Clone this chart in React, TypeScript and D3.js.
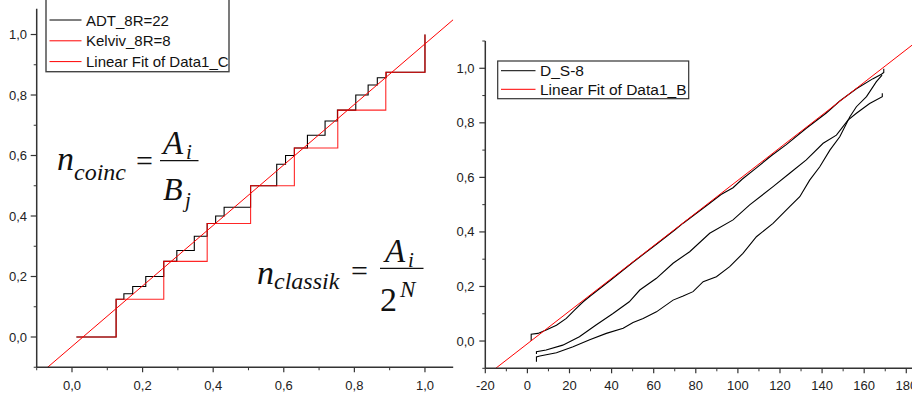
import React from "react";
import * as d3 from "d3";

// ---------- Left panel data ----------
const adtX = [0.0125, 0.125, 0.147, 0.172, 0.209, 0.26, 0.297, 0.3465, 0.383, 0.407, 0.431, 0.506, 0.58, 0.605, 0.63, 0.667, 0.717, 0.752, 0.804, 0.839, 0.865, 0.89, 1.0];
const adtY = [0, 0.125, 0.143, 0.167, 0.2, 0.25, 0.286, 0.333, 0.375, 0.4, 0.429, 0.5, 0.571, 0.6, 0.625, 0.667, 0.714, 0.75, 0.8, 0.833, 0.857, 0.875, 1.0];
const kelvX = [0.0125, 0.125, 0.26, 0.383, 0.506, 0.63, 0.753, 0.889, 1.0];
const kelvY = [0, 0.125, 0.25, 0.375, 0.5, 0.625, 0.75, 0.875, 1.0];
const fitLeftCoef = [-0.031, 1.0]; // intercept, slope
const leftXTicks = [0, 0.2, 0.4, 0.6, 0.8, 1.0];
const leftXMinor = [-0.1, 0.1, 0.3, 0.5, 0.7, 0.9];
const leftYTicks = [0, 0.2, 0.4, 0.6, 0.8, 1.0];
const leftYMinor = [-0.1, 0.1, 0.3, 0.5, 0.7, 0.9];
const leftLegend = ["ADT_8R=22", "Kelviv_8R=8", "Linear Fit of Data1_C"];

// ---------- Right panel data ----------
const upperX = [1.8, 1.8, 5.0, 8.9, 13.8, 18.5, 22.5, 26.5, 30, 39, 50, 61, 70, 74, 86.6, 92, 97.7, 102, 108.8, 116, 123, 132.5, 142, 148.4, 156.3, 164.2, 168.2, 169.3, 169.3];
const upperY = [0.0, 0.025, 0.028, 0.04, 0.058, 0.083, 0.114, 0.144, 0.166, 0.22, 0.288, 0.353, 0.407, 0.432, 0.505, 0.537, 0.562, 0.593, 0.635, 0.68, 0.72, 0.78, 0.836, 0.88, 0.925, 0.962, 0.978, 0.985, 0.998];
const middleX = [4.3, 4.3, 8.9, 16.8, 24.7, 32.6, 40.5, 48.4, 53.4, 61.3, 69.2, 77.1, 86.6, 97.7, 105.6, 116.7, 124.6, 132.5, 140.5, 146.8, 152.3, 156.3, 162.6, 168.6, 168.6];
const middleY = [-0.048, -0.039, -0.033, -0.015, 0.016, 0.059, 0.1, 0.144, 0.187, 0.23, 0.285, 0.3275, 0.395, 0.444, 0.499, 0.566, 0.615, 0.664, 0.725, 0.755, 0.81, 0.835, 0.871, 0.896, 0.908];
const lowerX = [4.3, 4.3, 5.9, 13.8, 21.7, 29.6, 37.5, 45.5, 50.2, 55, 61.3, 69.2, 74, 78.7, 83.5, 89.8, 96.1, 102.4, 108.8, 116.7, 124.6, 129.4, 134.1, 138.9, 143.7, 148.4, 153.2, 156.3, 161.1, 165.8, 168.5];
const lowerY = [-0.076, -0.058, -0.055, -0.043, -0.021, 0.005, 0.028, 0.047, 0.068, 0.083, 0.107, 0.15, 0.165, 0.181, 0.2175, 0.236, 0.2725, 0.3215, 0.3825, 0.4315, 0.4925, 0.529, 0.59, 0.639, 0.70, 0.749, 0.8225, 0.859, 0.896, 0.951, 0.975];
const fitRightCoef = [-0.0099, 0.00599];
const rightXTicks = [-20, 0, 20, 40, 60, 80, 100, 120, 140, 160, 180];
const rightXMinor = [-10, 10, 30, 50, 70, 90, 110, 130, 150, 170];
const rightYTicks = [0, 0.2, 0.4, 0.6, 0.8, 1.0];
const rightYMinor = [-0.1, 0.1, 0.3, 0.5, 0.7, 0.9, 1.1];
const rightLegend = ["D_S-8", "Linear Fit of Data1_B"];

const SANS = "'Liberation Sans', Arial, sans-serif";
const SERIF = "'Liberation Serif', 'Times New Roman', serif";
const AXIS = "#333";
const fmt = (v: number) => d3.format(".1f")(v).replace(".", ",");

export default function App() {
  // Left scales
  const lx = d3.scaleLinear().domain([-0.1, 1.08]).range([36.7, 453.2]);
  const ly = d3.scaleLinear().domain([-0.1, 1.085]).range([367.25, 8.8]);
  // Right scales
  const rx = d3.scaleLinear().domain([-20, 183]).range([485.3, 912.6]);
  const ry = d3.scaleLinear().domain([-0.1, 1.1]).range([368.3, 41.0]);

  const stepL = (xs: number[], ys: number[]) =>
    d3.line<number>().x((_, i) => lx(xs[i])).y((_, i) => ly(ys[i])).curve(d3.curveStepAfter)(xs) || "";
  const lineR = (xs: number[], ys: number[]) =>
    d3.line<number>().x((_, i) => rx(xs[i])).y((_, i) => ry(ys[i]))(xs) || "";

  const lxd = lx.domain();
  const fitL = `M${lx(lxd[0])},${ly(fitLeftCoef[0] + fitLeftCoef[1] * lxd[0])}L${lx(lxd[1])},${ly(fitLeftCoef[0] + fitLeftCoef[1] * lxd[1])}`;
  const rxd = rx.domain();
  const fitR = `M${rx(rxd[0])},${ry(fitRightCoef[0] + fitRightCoef[1] * rxd[0])}L${rx(rxd[1])},${ry(fitRightCoef[0] + fitRightCoef[1] * rxd[1])}`;

  const [lx0, lx1] = lx.range();
  const [ly0, ly1] = ly.range();
  const [rx0, rx1] = rx.range();
  const [ry0, ry1] = ry.range();

  return (
    <svg width={912} height={394} style={{ position: "absolute", left: 0, top: 0, background: "#fff" }}>
      <defs>
        <clipPath id="clipL">
          <rect x={lx0} y={ly1} width={lx1 - lx0} height={ly0 - ly1} />
        </clipPath>
        <clipPath id="clipR">
          <rect x={rx0} y={ry1} width={rx1 - rx0} height={ry0 - ry1} />
        </clipPath>
      </defs>
      <rect x={0} y={0} width={912} height={394} fill="#fff" />

      {/* ---------------- LEFT PANEL ---------------- */}
      <g clipPath="url(#clipL)">
        <path d={stepL(adtX, adtY)} fill="none" stroke="#000" strokeWidth={1.1} />
        <path d={stepL(kelvX, kelvY)} fill="none" stroke="#ff0000" strokeOpacity={0.85} strokeWidth={1.1} />
        <path d={fitL} fill="none" stroke="#ff0000" strokeWidth={1} />
      </g>
      {/* axes */}
      <line x1={lx0} x2={lx0} y1={ly1} y2={ly0} stroke={AXIS} strokeWidth={1.5} />
      <line x1={lx0} x2={lx1} y1={ly0} y2={ly0} stroke={AXIS} strokeWidth={1.5} />
      {leftXTicks.map((t) => (
        <g key={"lxt" + t}>
          <line x1={lx(t)} x2={lx(t)} y1={ly0} y2={ly0 + 5} stroke={AXIS} strokeWidth={1.2} />
          <text x={lx(t)} y={390} fontSize={13} fontFamily={SANS} textAnchor="middle" fill="#222">{fmt(t)}</text>
        </g>
      ))}
      {leftXMinor.map((t) => (
        <line key={"lxm" + t} x1={lx(t)} x2={lx(t)} y1={ly0} y2={ly0 + 3} stroke={AXIS} strokeWidth={1} />
      ))}
      {leftYTicks.map((t) => (
        <g key={"lyt" + t}>
          <line x1={lx0 - 6} x2={lx0} y1={ly(t)} y2={ly(t)} stroke={AXIS} strokeWidth={1.2} />
          <text x={27} y={ly(t) + 4.5} fontSize={13} fontFamily={SANS} textAnchor="end" fill="#222">{fmt(t)}</text>
        </g>
      ))}
      {leftYMinor.map((t) => (
        <line key={"lym" + t} x1={lx0 - 3} x2={lx0} y1={ly(t)} y2={ly(t)} stroke={AXIS} strokeWidth={1} />
      ))}
      {/* legend left */}
      <rect x={46} y={-4} width={183} height={75.7} fill="#fff" stroke="#444" strokeWidth={1.4} />
      {leftLegend.map((s, i) => (
        <g key={s}>
          <line x1={49.5} x2={81.5} y1={20 + i * 20.8} y2={20 + i * 20.8} stroke={i === 0 ? "#000" : "#ff0000"} strokeWidth={1} />
          <text x={86} y={20 + i * 20.8 + 5.5} fontSize={15} fontFamily={SANS} fill="#111">{s}</text>
        </g>
      ))}
      {/* formulas */}
      <g fontFamily={SERIF} fill="#111">
        <text x={57} y={170} fontSize={34} fontStyle="italic">n</text>
        <text x={74} y={180} fontSize={24} fontStyle="italic">coinc</text>
        <text x={136} y={171} fontSize={30}>=</text>
        <line x1={160} x2={198.5} y1={160.7} y2={160.7} stroke="#111" strokeWidth={1.3} />
        <text x={163} y={154} fontSize={33} fontStyle="italic">A</text>
        <text x={186} y={159} fontSize={21} fontStyle="italic">i</text>
        <text x={163} y={200} fontSize={32} fontStyle="italic">B</text>
        <text x={185} y={207} fontSize={21} fontStyle="italic">j</text>

        <text x={257} y={283.5} fontSize={34} fontStyle="italic">n</text>
        <text x={274} y={288.5} fontSize={24} fontStyle="italic">classik</text>
        <text x={351} y={281} fontSize={30}>=</text>
        <line x1={380} x2={423.5} y1={268.3} y2={268.3} stroke="#111" strokeWidth={1.3} />
        <text x={385} y={262} fontSize={33} fontStyle="italic">A</text>
        <text x={408} y={267} fontSize={21} fontStyle="italic">i</text>
        <text x={380} y={311} fontSize={34}>2</text>
        <text x={400} y={297} fontSize={23} fontStyle="italic">N</text>
      </g>

      {/* ---------------- RIGHT PANEL ---------------- */}
      <g clipPath="url(#clipR)">
        <path d={lineR(upperX, upperY)} fill="none" stroke="#000" strokeWidth={1.1} />
        <path d={lineR(middleX, middleY)} fill="none" stroke="#000" strokeWidth={1.1} />
        <path d={lineR(lowerX, lowerY)} fill="none" stroke="#000" strokeWidth={1.1} />
        <path d={fitR} fill="none" stroke="#ff0000" strokeWidth={1} />
      </g>
      <line x1={rx0} x2={rx0} y1={ry1} y2={ry0} stroke={AXIS} strokeWidth={1.5} />
      <line x1={rx0} x2={rx1} y1={ry0} y2={ry0} stroke={AXIS} strokeWidth={1.5} />
      {rightXTicks.map((t) => (
        <g key={"rxt" + t}>
          <line x1={rx(t)} x2={rx(t)} y1={ry0} y2={ry0 + 5} stroke={AXIS} strokeWidth={1.2} />
          <text x={rx(t)} y={390} fontSize={13} fontFamily={SANS} textAnchor="middle" fill="#222">{String(t)}</text>
        </g>
      ))}
      {rightXMinor.map((t) => (
        <line key={"rxm" + t} x1={rx(t)} x2={rx(t)} y1={ry0} y2={ry0 + 3} stroke={AXIS} strokeWidth={1} />
      ))}
      {rightYTicks.map((t) => (
        <g key={"ryt" + t}>
          <line x1={rx0 - 6} x2={rx0} y1={ry(t)} y2={ry(t)} stroke={AXIS} strokeWidth={1.2} />
          <text x={474.5} y={ry(t) + 4.5} fontSize={13} fontFamily={SANS} textAnchor="end" fill="#222">{fmt(t)}</text>
        </g>
      ))}
      {rightYMinor.map((t) => (
        <line key={"rym" + t} x1={rx0 - 3} x2={rx0} y1={ry(t)} y2={ry(t)} stroke={AXIS} strokeWidth={1} />
      ))}
      {/* legend right */}
      <rect x={497.7} y={61} width={191} height={37.7} fill="#fff" stroke="#333" strokeWidth={1.2} />
      {rightLegend.map((s, i) => (
        <g key={s}>
          <line x1={501} x2={535.5} y1={70.7 + i * 18.6} y2={70.7 + i * 18.6} stroke={i === 0 ? "#333" : "#ff3030"} strokeWidth={1.2} />
          <text x={540} y={70.7 + i * 18.6 + 5.5} fontSize={15.5} fontFamily={SANS} fill="#111">{s}</text>
        </g>
      ))}
    </svg>
  );
}
